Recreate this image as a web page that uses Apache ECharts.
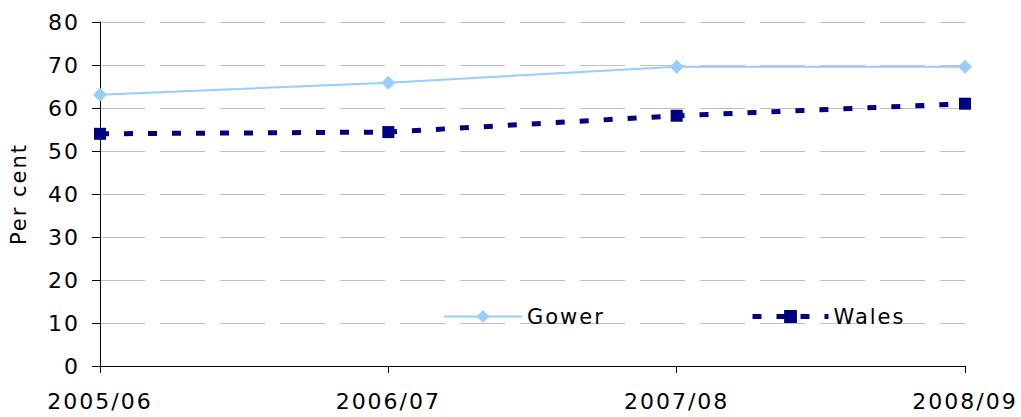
<!DOCTYPE html>
<html>
<head>
<meta charset="utf-8">
<script src="https://cdn.jsdelivr.net/npm/echarts@6/dist/echarts.min.js"></script>
<style>
html,body{margin:0;padding:0;background:#fff;}
#c{width:1021px;height:417px;}
#c svg text{letter-spacing:2px;}
</style>
</head>
<body>
<div id="c"></div>
<script>
var categories = ['2005/06', '2006/07', '2007/08', '2008/09'];
var gower = [63.1, 65.9, 69.6, 69.6];
var wales = [54.0, 54.4, 58.2, 61.0];
var yTicks = {min: 0, max: 80, interval: 10};

var font = 'DejaVu Sans';
var chart = echarts.init(document.getElementById('c'), null, {renderer: 'svg'});
var legendText = {fontFamily: font, fontSize: 21, color: '#000'};
chart.setOption({
  animation: false,
  backgroundColor: '#fff',
  grid: {left: 100, right: 56, top: 22, bottom: 51, containLabel: false, outerBoundsMode: 'none'},
  legend: [
    {
      data: [{name: 'Gower', lineStyle: {width: 2}}],
      left: 438, top: 301,
      itemWidth: 78, itemHeight: 16, itemGap: 6,
      textStyle: legendText
    },
    {
      data: [{name: 'Wales', lineStyle: {width: 5, type: [9, 15]}}],
      left: 745, top: 301,
      itemWidth: 76, itemHeight: 16, itemGap: 1,
      textStyle: legendText
    }
  ],
  xAxis: {
    type: 'category',
    data: categories,
    boundaryGap: false,
    axisLine: {lineStyle: {color: '#000', width: 1}},
    axisTick: {show: true, length: 7, lineStyle: {color: '#000'}},
    axisLabel: {fontFamily: font, fontSize: 22, color: '#000', margin: 24, interval: 0},
    splitLine: {show: false}
  },
  yAxis: {
    type: 'value',
    min: yTicks.min, max: yTicks.max, interval: yTicks.interval,
    name: 'Per cent',
    nameLocation: 'middle',
    nameGap: 71,
    nameTextStyle: {fontFamily: font, fontSize: 21, color: '#000'},
    axisLine: {show: true, lineStyle: {color: '#000', width: 1}},
    axisTick: {show: true, length: 8, inside: false, lineStyle: {color: '#000'}},
    axisLabel: {fontFamily: font, fontSize: 22, color: '#000', margin: 20},
    splitLine: {show: true, lineStyle: {color: '#c0c0c0', width: 1, type: [45, 15]}}
  },
  series: [
    {
      name: 'Gower', type: 'line', data: gower,
      symbol: 'diamond', symbolSize: 14,
      itemStyle: {color: '#99ccff'},
      lineStyle: {color: '#99ccff', width: 2}
    },
    {
      name: 'Wales', type: 'line', data: wales,
      symbol: 'rect', symbolSize: 12,
      itemStyle: {color: '#000080'},
      lineStyle: {color: '#000080', width: 5, type: [9, 15]}
    }
  ]
});
</script>
</body>
</html>
